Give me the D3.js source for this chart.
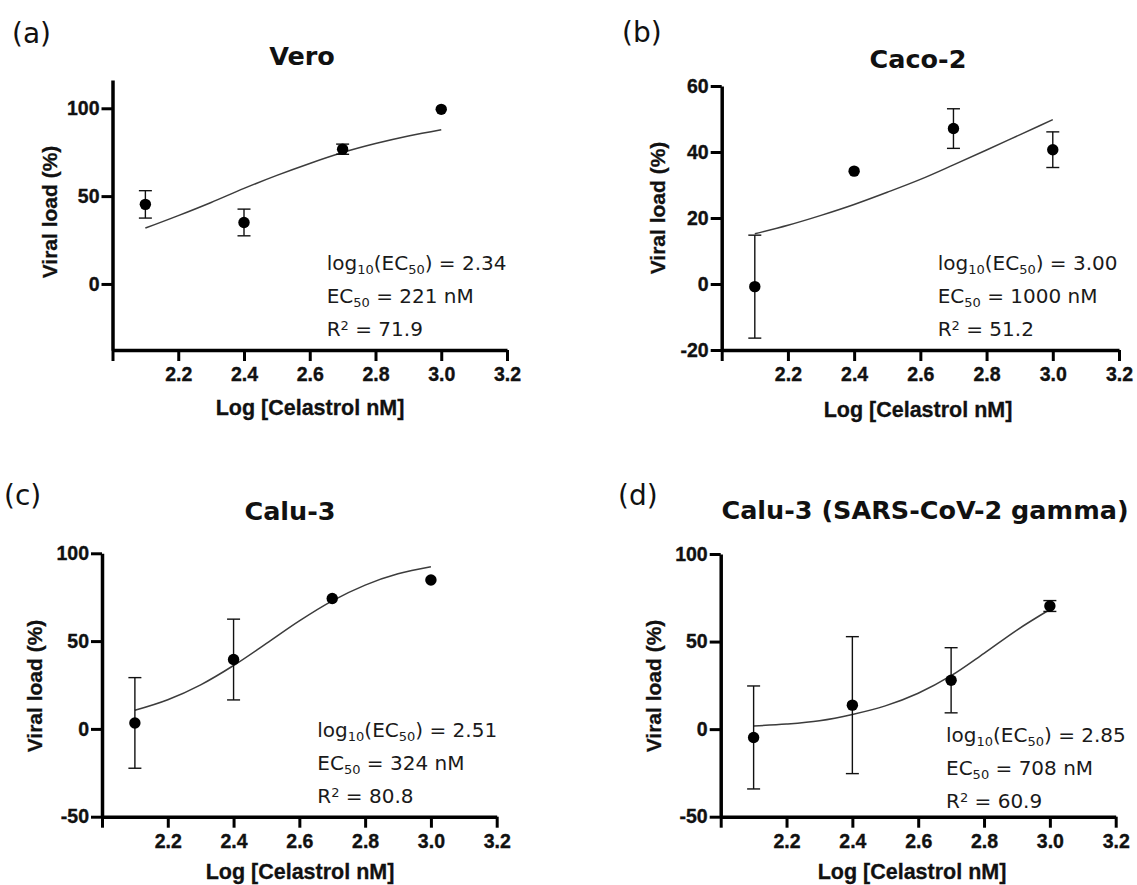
<!DOCTYPE html>
<html>
<head>
<meta charset="utf-8">
<script src="https://cdn.jsdelivr.net/npm/d3@7"></script>
<style>
  html, body { margin: 0; padding: 0; background: #fff; }
  svg { display: block; }
  .tick text { font-family: 'Liberation Sans', Arial, sans-serif; font-weight: bold; font-size: 19.5px;
               stroke: #111; stroke-width: 0.35px; }
</style>
</head>
<body>
<svg id="chart" width="1137" height="885"></svg>
<script>
// ---------------- DATA ----------------
const doseLog = [2.1, 2.4, 2.7, 3.0];
const xTickValues = [2.0, 2.2, 2.4, 2.6, 2.8, 3.0, 3.2];
const fitX = [2.1, 2.2, 2.3, 2.4, 2.5, 2.6, 2.7, 2.8, 2.9, 3.0];

const veroMean = [45.3, 35.0, 76.7, 99.4];
const veroErr  = [7.8, 7.6, 2.9, 0];
const veroFit  = [31.8, 38.9, 46.4, 54.4, 61.8, 68.6, 74.8, 79.9, 84.2, 87.8];

const cacoMean = [-0.8, 34.2, 47.1, 40.7];
const cacoErr  = [15.6, 0, 6.0, 5.4];
const cacoFit  = [15.2, 17.8, 20.8, 24.1, 27.8, 31.7, 36.1, 40.6, 45.2, 49.8];

const caluMean = [3.4, 39.5, 74.3, 84.8];
const caluErr  = [25.8, 23.0, 0, 0];
const caluFit  = [10.6, 16.6, 25.1, 36.1, 48.7, 61.5, 72.9, 81.9, 88.3, 92.3];

const gammaMean = [-4.75, 13.7, 27.9, 70.3];
const gammaErr  = [29.4, 39.1, 18.6, 3.1];
const gammaFit  = [1.8, 2.9, 4.8, 8.4, 13.3, 20.5, 30.5, 43.3, 56.6, 68.3];

const yTicksA = [0, 50, 100];
const yTicksB = [-20, 0, 20, 40, 60];
const yTicksCD = [-50, 0, 50, 100];

const panelLabels = ["(a)", "(b)", "(c)", "(d)"];
const titles = ["Vero", "Caco-2", "Calu-3", "Calu-3 (SARS-CoV-2 gamma)"];
const log10EC50 = ["2.34", "3.00", "2.51", "2.85"];
const ec50nM = ["221", "1000", "324", "708"];
const rSquared = ["71.9", "51.2", "80.8", "60.9"];
const yTitle = "Viral load (%)";
const xTitle = "Log [Celastrol nM]";

// ---------------- LAYOUT ----------------
const panels = [
  { mean: veroMean, err: veroErr, fit: veroFit, yTicks: yTicksA, yDom: [-37.6, 116.1],
    xr: [112.5, 507], yr: [350, 80], lab: [12, 43], title: [302, 65],
    yt: [57, 212], xt: [310, 415], ann: [326.7, 270] },
  { mean: cacoMean, err: cacoErr, fit: cacoFit, yTicks: yTicksB, yDom: [-20, 60],
    xr: [721.7, 1119], yr: [350, 86], lab: [622, 42], title: [918, 67.5],
    yt: [665, 208], xt: [918, 417], ann: [937.7, 269.5] },
  { mean: caluMean, err: caluErr, fit: caluFit, yTicks: yTicksCD, yDom: [-50, 100],
    xr: [102, 496.7], yr: [816.7, 553.3], lab: [4, 505], title: [290, 520],
    yt: [42, 686], xt: [300, 879], ann: [317.3, 737] },
  { mean: gammaMean, err: gammaErr, fit: gammaFit, yTicks: yTicksCD, yDom: [-50, 100],
    xr: [720.7, 1115.7], yr: [816.7, 554], lab: [618, 505], title: [925, 518.5],
    yt: [661, 686], xt: [912, 879], ann: [946, 741.5] }
];

const svg = d3.select("#chart");
const fmtX = d3.format(".1f");

panels.forEach((p, i) => {
  const g = svg.append("g");
  const x = d3.scaleLinear().domain([2.0, 3.2]).range(p.xr);
  const y = d3.scaleLinear().domain(p.yDom).range(p.yr);

  // axes
  const xAxis = d3.axisBottom(x).tickValues(xTickValues)
    .tickFormat(d => d === 2.0 ? "" : fmtX(d)).tickSize(11).tickSizeOuter(0).tickPadding(6);
  const yAxis = d3.axisLeft(y).tickValues(p.yTicks)
    .tickFormat(d => String(d)).tickSize(11).tickSizeOuter(0).tickPadding(2);

  const gx = g.append("g").attr("transform", `translate(0,${p.yr[0]})`).call(xAxis);
  const gy = g.append("g").attr("transform", `translate(${p.xr[0]},0)`).call(yAxis);
  [gx, gy].forEach(a => {
    a.attr("font-family", null).attr("font-size", null);
    a.select(".domain").attr("stroke", "#000").attr("stroke-width", 3.5);
    a.selectAll(".tick line").attr("stroke", "#000").attr("stroke-width", 3);
    a.selectAll(".tick text").attr("fill", "#111");
  });

  // fitted curve
  const line = d3.line().x((d, k) => x(fitX[k])).y(d => y(d)).curve(d3.curveMonotoneX);
  g.append("path").datum(p.fit).attr("d", line)
    .attr("fill", "none").attr("stroke", "#3c3c3c").attr("stroke-width", 1.5);

  // error bars
  const eb = g.append("g").attr("stroke", "#111").attr("stroke-width", 1.4);
  doseLog.forEach((dx, k) => {
    const e = p.err[k];
    if (!e) return;
    const cx = x(dx), y1 = y(p.mean[k] + e), y2 = y(p.mean[k] - e);
    eb.append("line").attr("x1", cx).attr("x2", cx).attr("y1", y1).attr("y2", y2);
    eb.append("line").attr("x1", cx - 6.5).attr("x2", cx + 6.5).attr("y1", y1).attr("y2", y1);
    eb.append("line").attr("x1", cx - 6.5).attr("x2", cx + 6.5).attr("y1", y2).attr("y2", y2);
  });

  // points
  g.append("g").selectAll("circle").data(p.mean).join("circle")
    .attr("cx", (d, k) => x(doseLog[k])).attr("cy", d => y(d)).attr("r", 5.7).attr("fill", "#000");

  // panel label
  g.append("text").attr("x", p.lab[0]).attr("y", p.lab[1]).text(panelLabels[i])
    .style("font-family", "'DejaVu Sans', Verdana, sans-serif").style("font-size", "28px").attr("fill", "#111");

  // title
  g.append("text").attr("x", p.title[0]).attr("y", p.title[1]).attr("text-anchor", "middle")
    .text(titles[i])
    .style("font-family", "'DejaVu Sans', Verdana, sans-serif").style("font-weight", "bold")
    .style("font-size", "25.5px").attr("fill", "#111");

  // axis titles
  g.append("text").attr("transform", `translate(${p.yt[0]},${p.yt[1]}) rotate(-90)`)
    .attr("text-anchor", "middle").text(yTitle)
    .style("font-family", "'Liberation Sans', Arial, sans-serif").style("font-weight", "bold")
    .style("font-size", "21px").attr("fill", "#111").attr("stroke", "#111").attr("stroke-width", 0.3);
  g.append("text").attr("x", p.xt[0]).attr("y", p.xt[1]).attr("text-anchor", "middle")
    .text(xTitle)
    .style("font-family", "'Liberation Sans', Arial, sans-serif").style("font-weight", "bold")
    .style("font-size", "21.5px").attr("fill", "#111").attr("stroke", "#111").attr("stroke-width", 0.3);

  // annotation
  const ann = g.append("g").style("font-family", "'DejaVu Sans', Verdana, sans-serif")
    .style("font-size", "20px").attr("fill", "#1a1a1a");
  const lh = 33;
  const t1 = ann.append("text").attr("x", p.ann[0]).attr("y", p.ann[1]);
  t1.append("tspan").text("log");
  t1.append("tspan").attr("dy", 4).style("font-size", "13px").text("10");
  t1.append("tspan").attr("dy", -4).text("(EC");
  t1.append("tspan").attr("dy", 4).style("font-size", "13px").text("50");
  t1.append("tspan").attr("dy", -4).text(") = " + log10EC50[i]);

  const t2 = ann.append("text").attr("x", p.ann[0]).attr("y", p.ann[1] + lh);
  t2.append("tspan").text("EC");
  t2.append("tspan").attr("dy", 4).style("font-size", "13px").text("50");
  t2.append("tspan").attr("dy", -4).text(" = " + ec50nM[i] + " nM");

  const t3 = ann.append("text").attr("x", p.ann[0]).attr("y", p.ann[1] + 2 * lh);
  t3.append("tspan").text("R");
  t3.append("tspan").attr("dy", -6).style("font-size", "13px").text("2");
  t3.append("tspan").attr("dy", 6).text(" = " + rSquared[i]);
});
</script>
</body>
</html>
